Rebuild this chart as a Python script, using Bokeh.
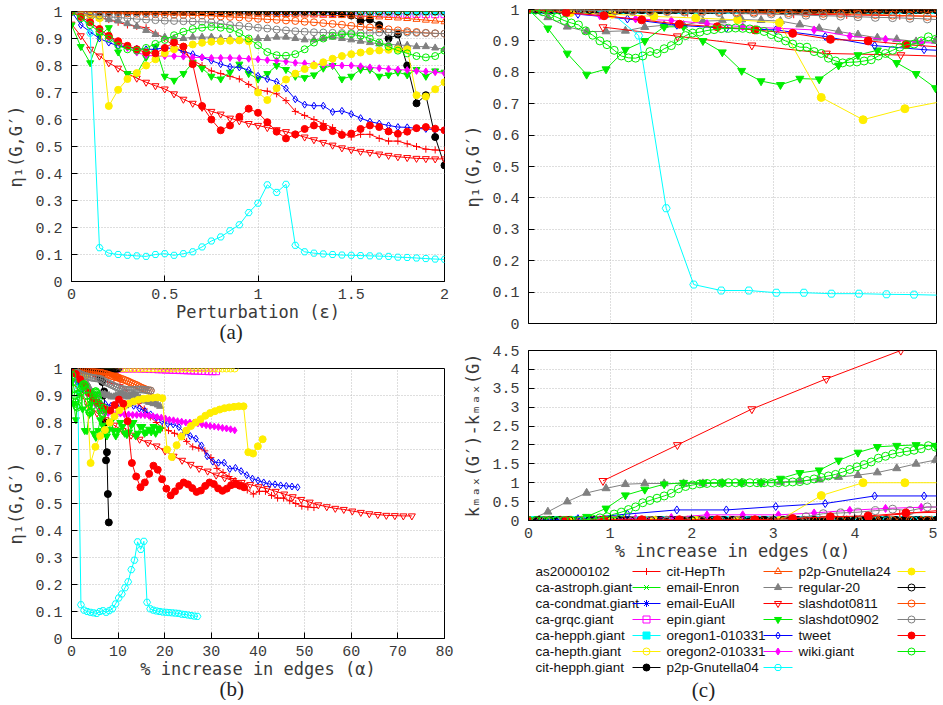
from bokeh.plotting import figure
from bokeh.models import Range1d, FixedTicker, CustomJSTickFormatter, Title
from bokeh.layouts import row, column
from bokeh.embed import file_html
from bokeh.resources import INLINE
from bokeh.core.properties import value

# ---------------------------------------------------------------- data
series_names = ["as20000102", "ca-astroph.giant", "ca-condmat.giant", "ca-grqc.giant",
                "ca-hepph.giant", "ca-hepth.giant", "cit-hepph.giant", "cit-HepTh",
                "email-Enron", "email-EuAll", "epin.giant", "oregon1-010331",
                "oregon2-010331", "p2p-Gnutella04", "p2p-Gnutella24", "regular-20",
                "slashdot0811", "slashdot0902", "tweet", "wiki.giant"]
series_colors = ["#ff0000", "#00ee00", "#0000ff", "#ff00ff", "#00ffff", "#ffee00", "#000000",
                 "#ff4d00", "#808080", "#ff0000", "#00ee00", "#0000ff", "#ff00ff", "#00ffff",
                 "#ffee00", "#000000", "#ff4d00", "#808080", "#ff0000", "#00ee00"]
series_markers = ["cross", "x", "asterisk", "square", "square", "circle", "circle",
                  "triangle", "triangle", "inverted_triangle", "inverted_triangle", "diamond",
                  "diamond", "hex", "circle", "circle", "circle", "circle", "circle", "circle"]
series_filled = [False, False, False, False, True, False, True, False, True, False, True,
                 False, True, False, True, False, False, False, True, False]

# perturbation grid (epsilon) for panels (a) and (b)
eps = [round(0.05 * i, 2) for i in range(41)]

flat_one_a = [1.0, 1.0, 1.0, 1.0, 1.0, 1.0, 1.0, 1.0, 1.0, 1.0,
              1.0, 1.0, 1.0, 1.0, 1.0, 1.0, 1.0, 1.0, 1.0, 1.0,
              1.0, 1.0, 1.0, 1.0, 1.0, 1.0, 1.0, 1.0, 1.0, 1.0,
              1.0, 1.0, 1.0, 1.0, 1.0, 1.0, 1.0, 1.0, 1.0, 1.0, 1.0]
eta_as20000102 = [1.0, 0.99, 0.985, 0.98, 0.97, 0.96, 0.95, 0.945, 0.94, 0.92,
                  0.9, 0.87, 0.85, 0.82, 0.8, 0.78, 0.77, 0.76, 0.75, 0.73,
                  0.71, 0.705, 0.695, 0.67, 0.63, 0.615, 0.6, 0.585, 0.57, 0.55,
                  0.535, 0.545, 0.545, 0.53, 0.52, 0.52, 0.51, 0.5, 0.49, 0.487, 0.485]
eta_ca_grqc = [1.0, 1.0, 1.0, 1.0, 1.0, 1.0, 1.0, 1.0, 1.0, 1.0,
               1.0, 1.0, 1.0, 1.0, 1.0, 1.0, 1.0, 1.0, 1.0, 1.0,
               0.999, 0.999, 0.998, 0.998, 0.997, 0.997, 0.996, 0.996, 0.995, 0.995,
               0.994, 0.994, 0.993, 0.993, 0.992, 0.992, 0.991, 0.991, 0.99, 0.99, 0.99]
eta_cit_hepph = [1.0, 1.0, 1.0, 1.0, 1.0, 1.0, 1.0, 1.0, 1.0, 1.0,
                 1.0, 1.0, 1.0, 1.0, 1.0, 1.0, 1.0, 1.0, 1.0, 1.0,
                 1.0, 1.0, 1.0, 1.0, 1.0, 1.0, 1.0, 1.0, 0.995, 0.99,
                 0.985, 0.965, 0.97, 0.95, 0.9, 0.915, 0.8, 0.66, 0.69, 0.535, 0.43]
eta_cit_HepTh = [1.0, 1.0, 0.999, 0.999, 0.998, 0.998, 0.997, 0.997, 0.996, 0.996,
                 0.995, 0.995, 0.994, 0.994, 0.993, 0.993, 0.992, 0.992, 0.991, 0.991,
                 0.99, 0.99, 0.989, 0.989, 0.988, 0.987, 0.987, 0.986, 0.985, 0.985,
                 0.984, 0.983, 0.982, 0.98, 0.978, 0.976, 0.974, 0.971, 0.968, 0.965, 0.962]
eta_email_Enron = [1.0, 0.99, 0.98, 0.975, 0.97, 0.965, 0.955, 0.945, 0.93, 0.915,
                   0.905, 0.9, 0.9, 0.905, 0.905, 0.905, 0.9, 0.9, 0.895, 0.895,
                   0.9, 0.9, 0.905, 0.905, 0.9, 0.895, 0.895, 0.9, 0.905, 0.9,
                   0.895, 0.89, 0.885, 0.88, 0.88, 0.875, 0.875, 0.87, 0.87, 0.865, 0.86]
eta_email_EuAll = [0.953, 0.91, 0.86, 0.835, 0.81, 0.79, 0.77, 0.753, 0.738, 0.725,
                   0.713, 0.695, 0.675, 0.66, 0.645, 0.63, 0.62, 0.605, 0.595, 0.585,
                   0.578, 0.57, 0.562, 0.555, 0.545, 0.535, 0.525, 0.515, 0.505, 0.495,
                   0.488, 0.482, 0.478, 0.472, 0.467, 0.462, 0.459, 0.456, 0.455, 0.454, 0.454]
eta_epin = [0.95, 0.87, 0.81, 0.91, 0.94, 0.85, 0.77, 0.77, 0.83, 0.87,
            0.76, 0.745, 0.77, 0.81, 0.79, 0.76, 0.75, 0.775, 0.805, 0.77,
            0.75, 0.77, 0.8, 0.785, 0.76, 0.755, 0.765, 0.79, 0.8, 0.75,
            0.76, 0.785, 0.785, 0.76, 0.765, 0.775, 0.765, 0.785, 0.76, 0.78, 0.775]
eta_oregon1 = [1.0, 0.95, 0.925, 0.9, 0.885, 0.873, 0.868, 0.862, 0.86, 0.86,
               0.866, 0.862, 0.852, 0.842, 0.83, 0.818, 0.805, 0.795, 0.793, 0.783,
               0.762, 0.75, 0.74, 0.715, 0.675, 0.655, 0.651, 0.651, 0.628, 0.632,
               0.62, 0.605, 0.592, 0.585, 0.578, 0.572, 0.571, 0.567, 0.565, 0.563, 0.56]
eta_oregon2 = [1.0, 0.98, 0.96, 0.93, 0.905, 0.885, 0.865, 0.848, 0.838, 0.835,
               0.835, 0.835, 0.833, 0.83, 0.83, 0.828, 0.828, 0.828, 0.827, 0.825,
               0.823, 0.82, 0.818, 0.815, 0.81, 0.808, 0.805, 0.803, 0.8, 0.8,
               0.8, 0.797, 0.793, 0.79, 0.787, 0.785, 0.783, 0.78, 0.778, 0.775, 0.771]
eta_p2p04 = [1.0, 1.0, 0.92, 0.125, 0.105, 0.1, 0.097, 0.095, 0.093, 0.1,
             0.103, 0.097, 0.103, 0.11, 0.128, 0.15, 0.165, 0.188, 0.21, 0.255,
             0.29, 0.358, 0.33, 0.36, 0.134, 0.11, 0.105, 0.102, 0.1, 0.098,
             0.097, 0.096, 0.095, 0.094, 0.093, 0.09, 0.089, 0.087, 0.085, 0.083, 0.082]
eta_p2p24 = [1.0, 0.99, 0.985, 0.975, 0.65, 0.71, 0.75, 0.772, 0.8, 0.823,
             0.845, 0.86, 0.87, 0.878, 0.884, 0.888, 0.89, 0.892, 0.893, 0.89,
             0.7, 0.672, 0.716, 0.748, 0.77, 0.787, 0.8, 0.812, 0.825, 0.835,
             0.842, 0.848, 0.853, 0.856, 0.858, 0.86, 0.86, 0.69, 0.685, 0.712, 0.738]
eta_slashdot0811 = [1.0, 1.0, 0.998, 0.996, 0.995, 0.994, 0.993, 0.992, 0.991, 0.99,
                    0.989, 0.988, 0.987, 0.986, 0.985, 0.984, 0.982, 0.98, 0.978, 0.976,
                    0.973, 0.971, 0.969, 0.967, 0.965, 0.962, 0.96, 0.957, 0.954, 0.951,
                    0.947, 0.944, 0.941, 0.938, 0.934, 0.93, 0.927, 0.924, 0.921, 0.919, 0.918]
eta_slashdot0902 = [1.0, 0.995, 0.99, 0.985, 0.98, 0.978, 0.975, 0.972, 0.97, 0.968,
                    0.966, 0.965, 0.964, 0.963, 0.962, 0.96, 0.955, 0.95, 0.947, 0.944,
                    0.94, 0.937, 0.933, 0.93, 0.927, 0.925, 0.923, 0.922, 0.921, 0.92,
                    0.92, 0.92, 0.921, 0.922, 0.922, 0.922, 0.922, 0.921, 0.92, 0.919, 0.918]
eta_tweet = [1.0, 0.98, 0.96, 0.935, 0.91, 0.89, 0.873, 0.86, 0.848, 0.845,
             0.865, 0.885, 0.87, 0.805, 0.65, 0.6, 0.56, 0.578, 0.61, 0.64,
             0.625, 0.59, 0.555, 0.53, 0.545, 0.565, 0.578, 0.571, 0.557, 0.543,
             0.548, 0.565, 0.578, 0.572, 0.556, 0.547, 0.555, 0.568, 0.572, 0.566, 0.56]
eta_wiki = [1.0, 0.975, 0.95, 0.925, 0.9, 0.875, 0.86, 0.855, 0.865, 0.88,
            0.895, 0.912, 0.925, 0.935, 0.94, 0.943, 0.94, 0.935, 0.92, 0.9,
            0.875, 0.85, 0.838, 0.836, 0.842, 0.86, 0.885, 0.9, 0.91, 0.915,
            0.916, 0.91, 0.9, 0.885, 0.87, 0.855, 0.845, 0.835, 0.83, 0.835, 0.855]

eta_by_series = [eta_as20000102, flat_one_a, flat_one_a, eta_ca_grqc, flat_one_a, flat_one_a,
                 eta_cit_hepph, eta_cit_HepTh, eta_email_Enron, eta_email_EuAll, eta_epin,
                 eta_oregon1, eta_oregon2, eta_p2p04, eta_p2p24, flat_one_a, eta_slashdot0811,
                 eta_slashdot0902, eta_tweet, eta_wiki]

# % increase in edges reached at epsilon = 2 (panel b)
alpha_max = [52, 5, 6, 31, 8, 35, 8, 10.5, 19, 73, 19, 48.5, 35, 27, 41, 10, 17, 17, 37, 7]

# ---- zoomed panels (alpha in 0..5): per-series alpha step, eta and k_max difference
zoom_step = [0.65, 0.0625, 0.075, 0.3875, 0.1, 0.4375, 0.1, 0.13, 0.2375, 0.9125,
             0.2375, 0.606, 0.4375, 0.3375, 0.5125, 0.125, 0.2125, 0.2125, 0.4625, 0.0875]
zoom_start = [0, 0, 0, 0, 0, 0, 0, 0, 0, 1, 0, 0, 0, 0, 0, 0, 0, 0, 0, 0]

flat_one_z = [1.0, 1.0, 1.0, 1.0, 1.0, 1.0, 1.0, 1.0, 1.0, 1.0,
              1.0, 1.0, 1.0, 1.0, 1.0, 1.0, 1.0, 1.0, 1.0, 1.0,
              1.0, 1.0, 1.0, 1.0, 1.0, 1.0, 1.0, 1.0, 1.0, 1.0,
              1.0, 1.0, 1.0, 1.0, 1.0, 1.0, 1.0, 1.0, 1.0, 1.0,
              1.0, 1.0, 1.0, 1.0, 1.0, 1.0, 1.0, 1.0, 1.0, 1.0,
              1.0, 1.0, 1.0, 1.0, 1.0, 1.0, 1.0, 1.0, 1.0, 1.0,
              1.0, 1.0, 1.0, 1.0, 1.0, 1.0, 1.0, 1.0, 1.0, 1.0,
              1.0, 1.0, 1.0, 1.0, 1.0, 1.0, 1.0, 1.0, 1.0, 1.0, 1.0, 1.0]
flat_zero_z = [0, 0, 0, 0, 0, 0, 0, 0, 0, 0,
               0, 0, 0, 0, 0, 0, 0, 0, 0, 0,
               0, 0, 0, 0, 0, 0, 0, 0, 0, 0,
               0, 0, 0, 0, 0, 0, 0, 0, 0, 0,
               0, 0, 0, 0, 0, 0, 0, 0, 0, 0,
               0, 0, 0, 0, 0, 0, 0, 0, 0, 0,
               0, 0, 0, 0, 0, 0, 0, 0, 0, 0,
               0, 0, 0, 0, 0, 0, 0, 0, 0, 0, 0, 0]

zeta_as20000102 = [1.0, 0.997, 0.993, 0.99, 0.987, 0.985, 0.983, 0.98, 0.978]
kdif_as20000102 = [0, 0, 0, 0, 0, 0, 0.02, 0.17, 0.3]
zeta_email_Enron = [1.0, 0.975, 0.945, 0.93, 0.93, 0.932, 0.944, 0.95, 0.95, 0.963,
                    0.965, 0.968, 0.966, 0.963, 0.952, 0.94, 0.93, 0.92, 0.91, 0.905,
                    0.898, 0.9, 0.895]
kdif_email_Enron = [0, 0.23, 0.5, 0.73, 0.85, 0.96, 0.98, 0.98, 0.98, 0.98,
                    0.99, 1.0, 1.0, 1.02, 1.05, 1.08, 1.15, 1.2, 1.27, 1.38,
                    1.5, 1.6, 1.7]
zeta_email_EuAll = [0.944, 0.915, 0.886, 0.86, 0.855, 0.848]
kdif_email_EuAll = [1.05, 2.0, 2.95, 3.75, 4.5, 5.3]
zeta_epin = [1.0, 0.94, 0.86, 0.793, 0.81, 0.872, 0.9, 0.945, 0.945, 0.9,
             0.864, 0.805, 0.772, 0.76, 0.78, 0.778, 0.822, 0.855, 0.87, 0.83,
             0.795, 0.75, 0.74]
kdif_epin = [0, 0, 0, 0.1, 0.32, 0.67, 0.82, 0.96, 1.0, 1.0,
             1.0, 1.0, 1.0, 1.11, 1.26, 1.33, 1.59, 1.8, 1.95, 1.98,
             2.0, 1.98, 2.0]
zeta_oregon1 = [1.0, 0.985, 0.97, 0.95, 0.94, 0.935, 0.914, 0.885, 0.872, 0.865]
kdif_oregon1 = [0, 0.05, 0.17, 0.28, 0.28, 0.37, 0.45, 0.65, 0.65, 0.65]
zeta_oregon2 = [1.0, 0.99, 0.98, 0.97, 0.965, 0.955, 0.945, 0.94, 0.935, 0.915, 0.905, 0.895, 0.89]
kdif_oregon2 = [0, 0, 0.02, 0.05, 0.08, 0.15, 0.15, 0.15, 0.2, 0.27, 0.32, 0.35, 0.37]
zeta_p2p04 = [1.0, 1.0, 1.0, 0.99, 0.917, 0.367, 0.124, 0.105, 0.105, 0.098,
              0.098, 0.095, 0.095, 0.093, 0.092, 0.09]
zeta_p2p24 = [1.0, 0.99, 0.985, 0.978, 0.973, 0.967, 0.958, 0.72, 0.649, 0.684, 0.71]
kdif_p2p24 = [0, 0, 0, 0, 0, 0, 0, 0.66, 1.0, 1.0, 1.0]
zeta_slashdot0811 = [1.0, 1.0, 0.999, 0.999, 0.998, 0.998, 0.997, 0.997, 0.996, 0.995,
                     0.995, 0.994, 0.993, 0.992, 0.991, 0.99, 0.989, 0.988, 0.987, 0.985,
                     0.984, 0.982, 0.98, 0.978, 0.976]
zeta_slashdot0902 = [1.0, 1.0, 0.999, 0.998, 0.997, 0.996, 0.995, 0.994, 0.993, 0.992,
                     0.991, 0.99, 0.989, 0.988, 0.986, 0.984, 0.982, 0.98, 0.979, 0.977,
                     0.975, 0.974, 0.972, 0.97, 0.966]
kdif_slashdot0902 = [0, 0, 0, 0, 0, 0, 0, 0, 0, 0,
                     0, 0, 0, 0, 0, 0.03, 0.1, 0.18, 0.2, 0.22,
                     0.26, 0.3, 0.26, 0.36, 0.35]
zeta_tweet = [1.0, 0.99, 0.98, 0.967, 0.953, 0.945, 0.935, 0.924, 0.905, 0.9, 0.888, 0.88]
kdif_tweet = [0, 0, 0.02, 0.02, 0.02, 0.02, 0.02, 0.05, 0.1, 0.12, 0.2, 0.22]
zeta_wiki = [1.0, 0.998, 0.993, 0.985, 0.975, 0.965, 0.957, 0.951, 0.932, 0.918,
             0.9, 0.888, 0.87, 0.852, 0.846, 0.845, 0.852, 0.866, 0.86, 0.875,
             0.885, 0.9, 0.917, 0.925, 0.928, 0.933, 0.936, 0.939, 0.94, 0.941,
             0.94, 0.938, 0.935, 0.93, 0.92, 0.91, 0.9, 0.89, 0.88, 0.88,
             0.866, 0.86, 0.845, 0.836, 0.83, 0.832, 0.833, 0.836, 0.84, 0.852,
             0.86, 0.87, 0.88, 0.888, 0.89, 0.9, 0.913, 0.905, 0.91]
kdif_wiki = [0, 0, 0, 0, 0, 0, 0, 0, 0.02, 0.04,
             0.07, 0.1, 0.17, 0.22, 0.29, 0.36, 0.47, 0.53, 0.59, 0.65,
             0.72, 0.84, 0.9, 0.94, 0.97, 0.98, 0.99, 0.99, 1.0, 1.0,
             1.0, 1.0, 1.0, 1.0, 1.0, 1.0, 1.01, 1.02, 1.03, 1.06,
             1.1, 1.14, 1.18, 1.22, 1.28, 1.35, 1.42, 1.48, 1.55, 1.65,
             1.7, 1.76, 1.8, 1.83, 1.86, 1.9, 1.98, 1.94, 1.95]

zeta_by_series = [zeta_as20000102, flat_one_z[:82], flat_one_z[:68], flat_one_z[:14],
                  flat_one_z[:52], flat_one_z[:13], flat_one_z[:52], flat_one_z[:40],
                  zeta_email_Enron, zeta_email_EuAll, zeta_epin, zeta_oregon1, zeta_oregon2,
                  zeta_p2p04, zeta_p2p24, flat_one_z[:42], zeta_slashdot0811,
                  zeta_slashdot0902, zeta_tweet, zeta_wiki]
kdif_by_series = [kdif_as20000102, flat_zero_z[:82], flat_zero_z[:68], flat_zero_z[:14],
                  flat_zero_z[:52], flat_zero_z[:13], flat_zero_z[:52], flat_zero_z[:40],
                  kdif_email_Enron, kdif_email_EuAll, kdif_epin, kdif_oregon1, kdif_oregon2,
                  flat_zero_z[:16], kdif_p2p24, flat_zero_z[:42], flat_zero_z[:25],
                  kdif_slashdot0902, kdif_tweet, kdif_wiki]

ticks_eta = [0, 0.1, 0.2, 0.3, 0.4, 0.5, 0.6, 0.7, 0.8, 0.9, 1]
ticks_eps = [0, 0.5, 1, 1.5, 2]
ticks_alpha = [0, 10, 20, 30, 40, 50, 60, 70, 80]
ticks_alpha5 = [0, 1, 2, 3, 4, 5]
ticks_kdif = [0, 0.5, 1, 1.5, 2, 2.5, 3, 3.5, 4, 4.5]

# ---------------------------------------------------------------- styling helpers
TICK_FONT = "Liberation Mono"
LABEL_FONT = "DejaVu Sans Mono"
TXT = "#3a3a3a"
fmt = CustomJSTickFormatter(code="return String(Math.round(tick*1000)/1000);")


def make_fig(w, h, xr, yr, xt, yt, xlabel, ylabel, borders, show_xaxis=True):
    left, right, top, bottom = borders
    p = figure(width=w, height=h, x_range=Range1d(*xr), y_range=Range1d(*yr),
               output_backend="svg", toolbar_location=None,
               min_border_left=left, min_border_right=right,
               min_border_top=top, min_border_bottom=bottom)
    p.outline_line_color = "black"
    p.outline_line_width = 1
    p.xaxis.ticker = FixedTicker(ticks=xt)
    p.yaxis.ticker = FixedTicker(ticks=yt)
    p.xgrid.ticker = FixedTicker(ticks=xt)
    p.ygrid.ticker = FixedTicker(ticks=yt)
    for ax in (p.xaxis[0], p.yaxis[0]):
        ax.formatter = fmt
        ax.major_tick_in = 6
        ax.major_tick_out = 0
        ax.minor_tick_line_color = None
        ax.axis_line_color = "black"
        ax.major_label_text_font = TICK_FONT
        ax.major_label_text_font_size = "15px"
        ax.major_label_text_color = TXT
        ax.axis_label_text_font = LABEL_FONT
        ax.axis_label_text_font_size = "17px"
        ax.axis_label_text_font_style = "normal"
        ax.axis_label_text_color = TXT
    p.xaxis.major_label_standoff = 7
    p.yaxis.major_label_standoff = 9
    p.xaxis.axis_label_standoff = 0
    p.yaxis.axis_label_standoff = 6
    if xlabel:
        p.xaxis.axis_label = xlabel
    p.yaxis.axis_label = ylabel
    if not show_xaxis:
        p.xaxis.visible = False
    for g in (p.xgrid[0], p.ygrid[0]):
        g.grid_line_color = "#bcbcbc"
        g.grid_line_dash = "1 2"
        g.grid_line_width = 1
    return p


def draw_series(p, xs, ys, i, size=7):
    c = series_colors[i]
    p.line(xs, ys, line_color=c, line_width=1)
    p.scatter(xs, ys, marker=series_markers[i], size=size, line_color=c, line_width=1,
              fill_color=c if series_filled[i] else None)


def caption(p, text, off):
    t = Title(text=text, align="left", offset=off, standoff=-13,
              text_font="Liberation Serif", text_font_size="21px",
              text_font_style="normal", text_color="#222222")
    p.add_layout(t, "below")


ETA_LABEL = "η₁(G,G′)"
ALPHA_LABEL = "% increase in edges (α)"

# ---------------------------------------------------------------- panel (a)
pa = make_fig(457, 343, (0, 2), (0, 1), ticks_eps, ticks_eta,
              "Perturbation (ε)", ETA_LABEL, (71, 13, 11, 62))
for i in range(len(series_names)):
    draw_series(pa, eps, eta_by_series[i], i)
caption(pa, "(a)", 148)

# ---------------------------------------------------------------- panel (b)
pb = make_fig(457, 357, (0, 80), (0, 1), ticks_alpha, ticks_eta,
              ALPHA_LABEL, ETA_LABEL, (71, 13, 25, 62))
for i in range(len(series_names)):
    xs = [e * alpha_max[i] / 2 for e in eps]
    draw_series(pb, xs, eta_by_series[i], i)
caption(pb, "(b)", 148)

# ---------------------------------------------------------------- top right (zoom of b)
pt = make_fig(480, 333, (0, 5), (0, 1), ticks_alpha5, ticks_eta,
              None, ETA_LABEL, (71, 1, 9, 10), show_xaxis=False)
for i in range(len(series_names)):
    xs = [zoom_step[i] * (zoom_start[i] + k) for k in range(len(zeta_by_series[i]))]
    draw_series(pt, xs, zeta_by_series[i], i, size=8)

# ---------------------------------------------------------------- panel (c)
pc = make_fig(480, 232, (0, 5), (0, 4.5), ticks_alpha5, ticks_kdif,
              ALPHA_LABEL, "kₘₐₓ(G′)-kₘₐₓ(G)", (71, 1, 17, 45))
for i in range(len(series_names)):
    xs = [zoom_step[i] * (zoom_start[i] + k) for k in range(len(kdif_by_series[i]))]
    draw_series(pc, xs, kdif_by_series[i], i, size=8)

# ---------------------------------------------------------------- legend + caption (c)
pl = figure(width=480, height=136, x_range=Range1d(0, 408), y_range=Range1d(136, 0),
            output_backend="svg", toolbar_location=None,
            min_border_left=71, min_border_right=1, min_border_top=0, min_border_bottom=0)
pl.axis.visible = False
pl.grid.visible = False
pl.outline_line_color = None
col_text_x = [7, 138, 270]
col_line_x = [(104, 132), (235, 264), (369, 397)]
for i, name in enumerate(series_names):
    col, r = divmod(i, 7)
    y = 6 + 16 * r
    pl.text(x=[col_text_x[col]], y=[y], text=[name], text_font=value("Liberation Sans"),
            text_font_size=value("13.5px"), text_baseline="middle", text_align="left",
            text_color="#111111")
    x0, x1 = col_line_x[col]
    c = series_colors[i]
    pl.segment(x0=[x0], y0=[y], x1=[x1], y1=[y], line_color=c, line_width=1)
    pl.scatter(x=[(x0 + x1) / 2], y=[y], marker=series_markers[i], size=7, line_color=c,
               fill_color=c if series_filled[i] else None)
pl.text(x=[175], y=[124], text=["(c)"], text_font=value("Liberation Serif"),
        text_font_size=value("21px"), text_baseline="middle", text_align="center",
        text_color="#222222")

layout = row(column(pa, pb), column(pt, pc, pl))
open("out.html", "w").write(file_html(layout, INLINE))
